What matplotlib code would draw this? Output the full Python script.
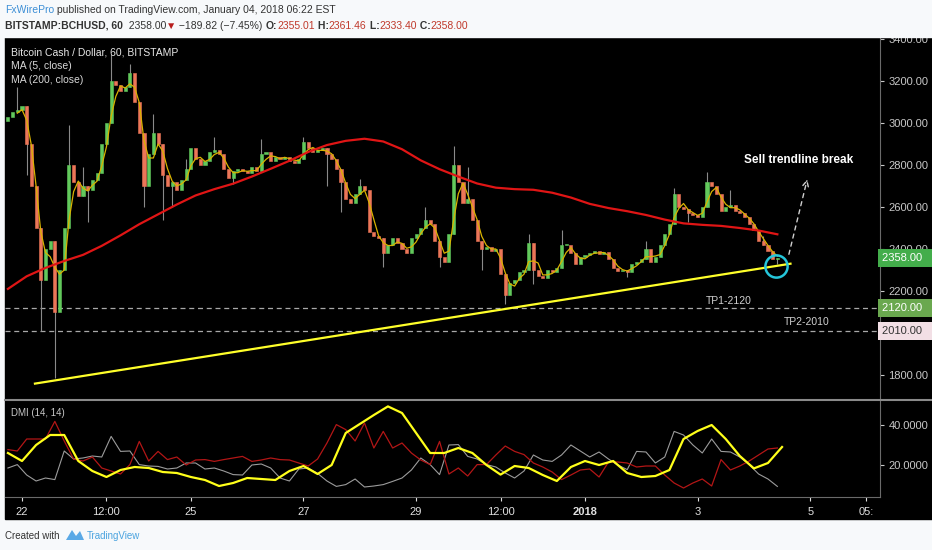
import numpy as np
import matplotlib
matplotlib.use("Agg")
import matplotlib.pyplot as plt
from matplotlib.patches import Rectangle, Polygon
from matplotlib.collections import LineCollection, PatchCollection
import matplotlib.transforms as mtransforms

# ---- data (time in days since Dec 22 00:00, 2h candles) ----
t_start = -0.25
step = 1 / 12
first_open = 3010
closes = [
    3030, 3050, 3060,
    3080, 2900, 2700, 2500, 2250, 2400, 2440, 2100, 2300, 2500, 2800, 2720,
    2650, 2700, 2680, 2730, 2760, 2900, 3000, 3200, 3180, 3150, 3170, 3240,
    3100, 2950, 2700, 2850, 2950, 2900, 2750, 2700, 2720, 2680, 2730, 2780,
    2880, 2830, 2800, 2820, 2860, 2870, 2850, 2780, 2740, 2770, 2780, 2770,
    2760, 2790, 2770, 2850, 2860, 2820, 2840, 2830, 2840, 2820, 2810, 2830,
    2910, 2880, 2860, 2870, 2880, 2850, 2830, 2780, 2720, 2640, 2620, 2660,
    2700, 2680, 2480, 2460, 2450, 2380, 2420, 2450, 2430, 2400, 2380, 2450,
    2470, 2500, 2540, 2520, 2440, 2360, 2340, 2470, 2800, 2720, 2620, 2640,
    2540, 2440, 2400, 2410, 2390, 2400, 2280, 2180, 2240, 2250, 2290, 2300,
    2430, 2300, 2270, 2260, 2300, 2290, 2310, 2420, 2420, 2380, 2330, 2360,
    2370, 2380, 2390, 2375, 2385, 2350, 2310, 2295, 2300, 2290, 2330, 2340,
    2350, 2400, 2340, 2360, 2420, 2470, 2520, 2660, 2600, 2590, 2570, 2560,
    2550, 2600, 2720, 2700, 2660, 2580, 2600, 2610, 2580, 2570, 2550, 2520,
    2490, 2440, 2420, 2390, 2350, 2358,
]
wick_hi = {2: 3170, 13: 2990, 16: 2790, 22: 3330, 26: 3280, 31: 3045, 38: 2830,
           44: 2935, 54: 2925, 63: 2935, 75: 2735, 89: 2600, 95: 2890, 98: 2790,
           111: 2470, 118: 2490, 136: 2440, 142: 2690, 149: 2765, 154: 2680, 161: 2460}
wick_lo = {4: 2750, 7: 2010, 10: 1785, 17: 2530, 29: 2600, 33: 2540, 35: 2600,
           48: 2710, 68: 2700, 71: 2576, 80: 2314, 92: 2315, 101: 2299, 106: 2140,
           112: 2235, 132: 2265, 145: 2530, 164: 2330}

# MA200 read every 8 hours
ma200_step = 1 / 3
ma200 = [2210, 2270, 2310, 2343, 2372, 2415, 2465, 2518, 2565, 2612, 2655, 2685,
         2711, 2745, 2782, 2820, 2862, 2895, 2915, 2925, 2912, 2875, 2822, 2780,
         2745, 2712, 2692, 2685, 2682, 2668, 2645, 2615, 2595, 2580, 2562, 2540,
         2522, 2515, 2510, 2500, 2488, 2470]

# DMI: ADX read every 6 hours, DI lines every 4 hours
adx_step = 0.25
adx = [26, 22, 30, 35, 35, 22, 17, 14, 17.5, 19, 18.5, 16.5, 16, 14, 12.5, 9.5,
       11, 13.5, 13, 12.5, 17, 19.5, 15.5, 20, 36, 40.5, 45, 49.3, 46, 36, 26, 26,
       28.5, 26, 20, 15.2, 19.5, 18.5, 15, 12, 19, 22, 20, 22, 16, 14, 14.5, 17.5,
       33, 37, 40, 33, 24.5, 18.3, 21, 29]
di_step = 1 / 6
di_plus = [27.7, 27, 33, 33, 33, 41.8, 32, 23, 22, 24, 18.5, 17, 15.5, 20.2,
           31.8, 22, 26.8, 22.7, 24, 20, 22.5, 22.7, 21.8, 22.7, 23.5, 24.3, 21.8,
           22.5, 23.5, 22.7, 22.5, 21, 19.5, 23, 31, 40.2, 37.7, 32, 41, 28.5, 36.8,
           28.5, 31, 26, 22.5, 20.2, 31.8, 15.5, 18.5, 14.5, 20.2, 20.2, 25, 29.5,
           26.8, 25.2, 21, 19, 16.5, 12.7, 15, 17.5, 18, 14, 21.5, 21.5, 21, 19,
           19.5, 19.5, 15, 11, 8.5, 11, 13, 9.5, 22.7, 17.5, 19.5, 22, 25, 28, 28.5]
di_minus = [18.5, 20.2, 15, 12, 13.5, 12.7, 27, 23, 23.5, 24.5, 24, 34.3, 26.8,
            27, 20.2, 19.5, 19.3, 18, 18.5, 21, 21, 18, 18.5, 17, 15.2, 15, 20,
            20.5, 18.5, 13.5, 12, 18, 18.5, 15.8, 12, 9.3, 10.2, 13, 9, 9.5, 10.2,
            11.8, 13.5, 17.5, 23.5, 20.2, 15.2, 30, 30.2, 24.3, 23, 20.2, 19, 16,
            13.5, 17, 25, 22.5, 21.8, 25, 30, 27, 24, 26.5, 23, 20, 17.7, 26.8,
            26.5, 21, 24, 36.8, 35, 30, 26, 33, 26.8, 26.5, 24, 20.2, 15.5, 13, 9.3]

trend_t = [0.23, 13.65]
trend_p = [1759, 2330]
tp_levels = [2120, 2010]
last_price = 2358

xtick_pos = [0, 1.5, 3, 5, 7, 8.5, 10, 12, 14, 15.0]
xtick_lab = ['22', '12:00', '25', '27', '29', '12:00', '2018', '3', '5', '05:']
price_ticks = [1800, 2000, 2200, 2400, 2600, 2800, 3000, 3200, 3400]
dmi_ticks = [20, 40]

# ---- figure ----
W, H = 932, 550
fig = plt.figure(figsize=(W / 100, H / 100), dpi=100)
fig.patch.set_facecolor('#f7f9fb')
SANS = ['Liberation Sans', 'DejaVu Sans']


def fx(px):
    return px / W


def fy(py):
    return 1 - py / H


fig.add_artist(Rectangle((fx(5), fy(519)), fx(932) - fx(5), fy(37) - fy(519),
                         transform=fig.transFigure, color='black', zorder=-5))

ax = fig.add_axes([fx(5), fy(399), fx(880) - fx(5), fy(37) - fy(399)])
ax2 = fig.add_axes([fx(5), fy(497), fx(880) - fx(5), fy(401) - fy(497)], sharex=ax)
for a in (ax, ax2):
    a.set_facecolor('black')
    for s in ('top', 'left', 'bottom'):
        a.spines[s].set_visible(False)
    a.spines['right'].set_color('#6a6a6a')
    a.yaxis.tick_right()
    a.tick_params(axis='y', colors='#c8c8c8', labelsize=8, length=3, pad=3)

ax.set_xlim(-0.302, 15.24)
ax.set_ylim(1685.7, 3409.5)
ax2.set_ylim(4, 52)

# candles
n = len(closes)
tc = t_start + step * np.arange(n)
opens = [first_open] + closes[:-1]
bw = step * 0.66
bodies_g, bodies_r, wicks = [], [], []
for i in range(n):
    o, c = opens[i], closes[i]
    lo, hi = min(o, c), max(o, c)
    rect = Rectangle((tc[i] - bw / 2, lo), bw, max(hi - lo, 4))
    (bodies_g if c >= o else bodies_r).append(rect)
    whi = wick_hi.get(i, hi)
    wlo = wick_lo.get(i, lo)
    if whi > hi or wlo < lo:
        wicks.append([(tc[i], wlo), (tc[i], whi)])
ax.add_collection(LineCollection(wicks, colors='#8a8a8a', linewidths=0.8, zorder=2))
ax.add_collection(PatchCollection(bodies_g, facecolor='#62c95c', edgecolor='#62c95c', lw=0.4, zorder=3))
ax.add_collection(PatchCollection(bodies_r, facecolor='#ec7658', edgecolor='#ec7658', lw=0.4, zorder=3))

ma5 = np.convolve(closes, np.ones(3) / 3, mode='valid')
ax.plot(tc[2:], ma5, color='#d9b300', lw=0.9, zorder=4)
tm = t_start + ma200_step * np.arange(len(ma200))
ax.plot(tm, ma200, color='#e01515', lw=1.6, zorder=4)

# trendline, TP levels, annotations
ax.plot(trend_t, trend_p, color='#ffff2a', lw=1.6, zorder=5)
for lv in tp_levels:
    ax.axhline(lv, color='#a8a8a8', lw=0.9, ls=(0, (4, 3)), zorder=1)
ax.plot(13.39, 2320, 'o', ms=16, mfc='none', mec='#25c6da', mew=1.8, zorder=6)
ax.annotate('', xy=(13.96, 2745), xytext=(13.61, 2362),
            arrowprops=dict(arrowstyle='->', ls=(0, (3, 3)), color='#cfcfcf', lw=1.0))
ax.text(13.8, 2822, 'Sell trendline break', color='white', fontsize=8.5,
        fontweight='bold', ha='center', va='center', family=SANS)
ax.text(12.56, 2150, 'TP1-2120', color='#d0d0d0', fontsize=7.5, ha='center', va='center', family=SANS)
ax.text(13.93, 2050, 'TP2-2010', color='#d0d0d0', fontsize=7.5, ha='center', va='center', family=SANS)

ax.set_yticks(price_ticks)
# 2000.00 sits fully under the 2010 tag, so it gets no label
ax.set_yticklabels(['' if v == 2000 else '%.2f' % v for v in price_ticks])
ax.tick_params(axis='x', bottom=False, labelbottom=False)

# price tags on the axis
tr = mtransforms.blended_transform_factory(ax.transAxes, ax.transData)
for val, fc, tc_ in [(last_price, '#43ad4b', 'white'), (2120, '#6aa84f', 'white'),
                     (2010, '#f2dfe5', '#333333')]:
    ax.text(1.0025, val, '%.2f  ' % val, transform=tr, ha='left', va='center', fontsize=8,
            color=tc_, family=SANS, clip_on=False, zorder=10,
            bbox=dict(boxstyle='square,pad=0.35', fc=fc, ec='none'))

ax.text(0.007, 0.958, 'Bitcoin Cash / Dollar, 60, BITSTAMP', transform=ax.transAxes,
        color='#e8e8e8', fontsize=7.5, va='center', family=SANS)
ax.text(0.007, 0.919, 'MA (5, close)', transform=ax.transAxes, color='#d8d8d8', fontsize=7.5, va='center', family=SANS)
ax.text(0.007, 0.880, 'MA (200, close)', transform=ax.transAxes, color='#d8d8d8', fontsize=7.5, va='center', family=SANS)

# DMI
ta = t_start + adx_step * np.arange(len(adx))
tdi = t_start + di_step * np.arange(len(di_plus))
ax2.plot(tdi, di_minus, color='#9c9c9c', lw=0.8)
ax2.plot(tdi, di_plus, color='#b31616', lw=0.9)
ax2.plot(ta, adx, color='#ffff1a', lw=1.6)
ax2.set_yticks(dmi_ticks)
ax2.set_yticklabels(['%.4f' % v for v in dmi_ticks])
ax2.text(0.007, 0.88, 'DMI (14, 14)', transform=ax2.transAxes, color='#c8c8c8', fontsize=7,
         va='center', family=SANS)
ax2.set_xticks(xtick_pos)
ax2.set_xticklabels(xtick_lab)
ax2.tick_params(axis='x', colors='#e0e0e0', labelsize=8, length=3, pad=4)
for a in (ax, ax2):
    for lab in a.get_yticklabels() + a.get_xticklabels():
        lab.set_family(SANS)
for lab in ax2.get_xticklabels():
    if lab.get_text() == '2018':
        lab.set_fontweight('bold')
ax2.spines['bottom'].set_visible(True)
ax2.spines['bottom'].set_color('#6a6a6a')

fig.add_artist(plt.Line2D([fx(5), fx(932)], [fy(400), fy(400)], transform=fig.transFigure,
                          color='#8a8a8a', lw=1.5, zorder=3))

# header over the top of the chart
fig.add_artist(Rectangle((0, fy(37)), 1, 1 - fy(37), transform=fig.transFigure,
                         color='#f7f9fb', zorder=8))
renderer = fig.canvas.get_renderer()


def chain(x_px, y_px, parts, size):
    x = fx(x_px)
    for s, col, wt in parts:
        t = fig.text(x, fy(y_px), s, color=col, fontsize=size, fontweight=wt,
                     va='center', ha='left', zorder=9, family=SANS)
        x += t.get_window_extent(renderer).width / W


dark, red = '#333333', '#c0392b'
chain(5, 10, [('FxWirePro', '#3d8fd6', 'normal'),
              (' published on TradingView.com, January 04, 2018 06:22 EST', dark, 'normal')], 7.5)
chain(5, 26, [('BITSTAMP:BCHUSD, 60', dark, 'bold'), ('  2358.00', dark, 'normal'),
              ('\u25bc', '#b71c1c', 'normal'), (' \u2212189.82 (\u22127.45%) ', dark, 'normal'),
              ('O:', dark, 'bold'), ('2355.01', red, 'normal'), (' H:', dark, 'bold'),
              ('2361.46', red, 'normal'), (' L:', dark, 'bold'), ('2333.40', red, 'normal'),
              (' C:', dark, 'bold'), ('2358.00', red, 'normal')], 7.5)

# footer
fig.text(fx(5), fy(536), 'Created with', color=dark, fontsize=7, va='center', family=SANS)
fig.add_artist(Polygon([[fx(66), fy(540)], [fx(72), fy(530)], [fx(76), fy(536)],
                        [fx(80), fy(531)], [fx(84), fy(540)]], closed=True,
                       transform=fig.transFigure, fc='#5aa9e6', ec='none'))
fig.text(fx(87), fy(536), 'TradingView', color='#4aa3df', fontsize=7, va='center', family=SANS)

fig.savefig('out.png', dpi=100, facecolor=fig.get_facecolor())
